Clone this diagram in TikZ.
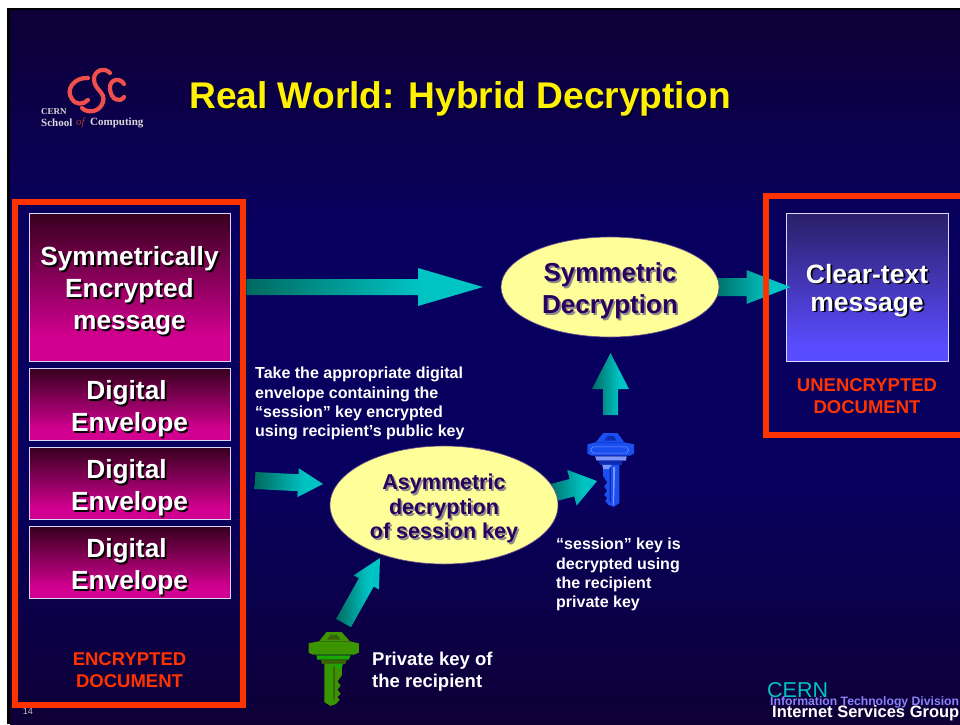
\documentclass[tikz,border=0pt]{standalone}
\usepackage{fontspec}
\setmainfont{Liberation Sans}
\newfontfamily\logofont{Liberation Serif}
\usetikzlibrary{calc,shapes.geometric}

\definecolor{slidedark}{HTML}{0E0036}
\definecolor{slidemid}{HTML}{08005E}
\definecolor{framered}{HTML}{FF3300}
\definecolor{plumlow}{HTML}{36001E}
\definecolor{plumhigh}{HTML}{D20090}
\definecolor{violetlow}{HTML}{2A1F66}
\definecolor{violethigh}{HTML}{5A4CFF}
\definecolor{teallow}{HTML}{006A60}
\definecolor{tealhigh}{HTML}{00C4C4}
\definecolor{ovalfill}{HTML}{FFFF99}
\definecolor{ovalink}{HTML}{2A0060}
\definecolor{logored}{HTML}{F0504C}
\definecolor{bluekeymain}{HTML}{1A4FF2}
\definecolor{bluekeydark}{HTML}{0C2CB4}
\definecolor{bluekeylight}{HTML}{7C96FF}
\definecolor{greenkeymain}{HTML}{3F9200}
\definecolor{greenkeydark}{HTML}{366400}
\definecolor{greenkeylight}{HTML}{18A800}

\pgfdeclareverticalshading{slidefade}{100bp}{color(0bp)=(slidedark); color(25bp)=(slidedark); color(42bp)=(slidemid); color(60bp)=(slidemid); color(75bp)=(slidedark); color(100bp)=(slidedark)}
\pgfdeclareverticalshading{plumfade}{100bp}{color(0bp)=(plumhigh); color(33bp)=(plumhigh); color(75bp)=(plumlow); color(100bp)=(plumlow)}
\pgfdeclareverticalshading{violetfade}{100bp}{color(0bp)=(violethigh); color(30bp)=(violethigh); color(75bp)=(violetlow); color(100bp)=(violetlow)}
\pgfdeclarehorizontalshading{tealfade}{100bp}{color(0bp)=(teallow); color(25bp)=(teallow); color(62bp)=(tealhigh); color(100bp)=(tealhigh)}

\tikzset{frame/.style = {draw=framered,line width=6pt}}
\tikzset{bigbox/.style = {rectangle,draw=white!85!blue,line width=1pt,inner sep=0pt,shade,text=white}}
\tikzset{plumbox/.style = {bigbox,shading=plumfade,minimum width=201pt,font=\fontsize{26.3}{32}\selectfont\bfseries}}
\tikzset{oval/.style = {ellipse,fill=ovalfill,draw=ovalink!70!white,line width=0.6pt,inner sep=0pt,text=ovalink}}
\tikzset{note/.style = {anchor=north west,inner sep=0pt,align=left,text=white,font=\fontsize{16}{19.2}\selectfont\bfseries}}
\tikzset{redlabel/.style = {align=center,inner sep=0pt,text=framered,font=\fontsize{18.5}{22}\selectfont\bfseries}}
\tikzset{fatarrow/.style = {shade,shading=tealfade}}
\tikzset{logoline/.style = {draw=logored,line width=4.2pt,line cap=round}}
\tikzset{logotext/.style = {inner sep=0pt,anchor=west,text=white!85!black,font=\logofont\fontsize{11}{11}\selectfont\bfseries}}

% lines set in a stack, with a copy behind them as the drop shadow
\newcommand{\dropstack}[2]{\leavevmode\raisebox{-4.5pt}[\height][\depth]{\rlap{\kern1.8pt\raisebox{-1.8pt}[\height][\depth]{\textcolor{#1}{\begin{tabular}{@{}c@{}}#2\end{tabular}}}}\begin{tabular}{@{}c@{}}#2\end{tabular}}}

% tail, tip, half shaft, half head, head length
\newcommand{\blockarrow}[5]{
  \coordinate (neck) at ($(#2)!#5!(#1)$);
  \path[fatarrow] ($(#1)!#3!90:(#2)$) -- ($(neck)!#3!90:(#2)$) -- ($(neck)!#4!90:(#2)$)
    -- (#2) -- ($(neck)!#4!-90:(#2)$) -- ($(neck)!#3!-90:(#2)$) -- ($(#1)!#3!-90:(#2)$) -- cycle;
}

% position, width scale, main, dark and light colour
\newcommand{\keyicon}[5]{
  \begin{scope}[shift={(#1)},xscale=#2,yscale=1.03]
    \fill[#3] (-15,9) -- (-7.3,0) -- (6.7,0) -- (13.5,9) -- cycle;
    \fill[#4] (-6.3,7.3) -- (-3,2.7) -- (2.7,2.7) -- (6,7.3) -- cycle;
    \fill[#3] (-23.3,11) -- (-15,9) -- (13.5,9) -- (23.3,11) -- (23.3,20) -- (19.3,22) -- (-19,22) -- (-23.3,20) -- cycle;
    \draw[#5,line width=0.5pt] (-18,13.5) -- (16,13.5) -- (18,16.5) -- (16,19.5) -- (-18,19.5) -- (-20,16.5) -- cycle;
    \fill[#5] (-15.7,22.7) -- (16,22.7) -- (15.3,26.7) -- (-14,26.7) -- cycle;
    \fill[#4] (-12.3,26.7) -- (12,26.7) -- (11,31) -- (-10.7,31) -- cycle;
    \fill[#3] (-7.5,31) -- (8.7,31) -- (8.7,68) -- (3,71.7) -- (-2,70) -- (-5.5,66) -- (-3.5,63) -- (-6.5,60)
      -- (-3.5,56) -- (-6.5,52) -- (-3.5,48) -- (-7.5,42) -- cycle;
    \fill[#4] (-1,33) -- (0.2,33) -- (0.2,67) -- (-1,66) -- cycle;
    \fill[#5] (2.5,33) -- (4.5,33) -- (3.2,70) -- (2.2,70) -- cycle;
    \fill[#5] (-8.5,31) -- (1,31) -- (-2,35) -- (-7.5,35) -- cycle;
  \end{scope}
}

\begin{document}
\begin{tikzpicture}[x=1pt,y=-1pt]
\useasboundingbox (0,0) rectangle (960,724);

% slide
\fill[white] (0,0) rectangle (960,724);
\fill[black] (7,8) rectangle (960,724);
\path[shade,shading=slidefade] (10,10) rectangle (960,724);

% logo
\draw[logoline] (88,78) .. controls (74,77) and (65,90) .. (72,99) .. controls (76,105) and (83,105) .. (88,100);
\draw[logoline] (110,73) .. controls (105,67) and (94,70) .. (94,79) .. controls (94,90) and (106,92) .. (103,102) .. controls (100,112) and (88,114) .. (82,108);
\draw[logoline] (124,84) .. controls (120,77) and (109,79) .. (110,89) .. controls (111,100) and (120,103) .. (124,97);
\node[logotext,font=\logofont\fontsize{9}{9}\selectfont\bfseries] (logocern) at (41,112) {CERN};
\node[logotext] (logoschool) at (41,123) {School};
\node[logotext,text=logored!70!black,font=\logofont\fontsize{11}{11}\selectfont\itshape] (logoof) at (76,123) {of};
\node[logotext] (logocomp) at (90,123) {Computing};

\node[inner sep=0pt,anchor=west,text=yellow,font=\fontsize{37.15}{37}\selectfont\bfseries] (title) at (189,96.5) {\dropstack{black!80!blue}{Real World: Hybrid Decryption}};

% left column
\node[plumbox,minimum height=148pt] (msgbox) at (129.5,287) {\dropstack{black}{Symmetrically\\Encrypted\\message}};
\node[plumbox,minimum height=72pt] (envone) at (129.5,404.5) {\dropstack{black}{Digital\hspace*{6pt}\\Envelope}};
\node[plumbox,minimum height=72pt] (envtwo) at (129.5,483.5) {\dropstack{black}{Digital\hspace*{6pt}\\Envelope}};
\node[plumbox,minimum height=72pt] (envthree) at (129.5,562.5) {\dropstack{black}{Digital\hspace*{6pt}\\Envelope}};
\node[redlabel] (enclabel) at (129.5,670) {ENCRYPTED\\DOCUMENT};
\node[inner sep=0pt,text=white!75!black,font=\fontsize{9}{9}\selectfont] (pagenum) at (28,711) {14};
\node[frame,rectangle,inner sep=0pt,minimum width=228.5pt,minimum height=503pt] (encframe) at (129.2,453.5) {};

% right column
\node[bigbox,shading=violetfade,minimum width=162pt,minimum height=148pt,font=\fontsize{26.5}{28}\selectfont\bfseries] (clearbox) at (867,287) {\dropstack{black}{Clear-text\\message}};
\node[redlabel] (clearlabel) at (867,396) {UNENCRYPTED\\DOCUMENT};

% arrows go below the ovals
\coordinate (msgtail) at (encframe.east |- msgbox);
\coordinate (symtip) at (483,287);
\blockarrow{msgtail}{symtip}{8pt}{19pt}{65pt}
\coordinate (symtail) at (712,287);
\coordinate (cleartip) at ($(clearbox.west)+(5,0)$);
\blockarrow{symtail}{cleartip}{9pt}{17pt}{44pt}
\coordinate (envtail) at (255,480.5);
\coordinate (asymtip) at (323,484);
\blockarrow{envtail}{asymtip}{8.5pt}{14.5pt}{25pt}
\coordinate (keytail) at (548,494);
\coordinate (keytip) at (597,481);
\blockarrow{keytail}{keytip}{9pt}{18.5pt}{26pt}
\coordinate (uptail) at (610.5,415);
\coordinate (uptip) at (610.5,353);
\blockarrow{uptail}{uptip}{7.5pt}{18.5pt}{36pt}
\coordinate (privtail) at (343.5,623);
\coordinate (privtip) at (380,558);
\blockarrow{privtail}{privtip}{8.5pt}{14.5pt}{28pt}

\draw[frame] (960,196) -- (766,196) -- (766,435) -- (960,435);

% ovals
\node[oval,minimum width=218pt,minimum height=100pt,font=\fontsize{26}{32}\selectfont\bfseries] (symdec) at (610,287) {\dropstack{black!45!white}{Symmetric\\Decryption}};
\node[oval,minimum width=228pt,minimum height=118pt,font=\fontsize{21.5}{24.5}\selectfont\bfseries] (asymdec) at (444,505) {\dropstack{black!45!white}{Asymmetric\\decryption\\of session key}};

% keys
\keyicon{610.7,433}{1}{bluekeymain}{bluekeydark}{bluekeylight}
\keyicon{333.7,632}{-1.08}{greenkeymain}{greenkeydark}{greenkeylight}

% notes
\node[note] (takenote) at (255,367) {Take the appropriate digital\\envelope containing the\\“session” key encrypted\\using recipient’s public key};
\node[note] (keynote) at (556,538) {“session” key is\\decrypted using\\the recipient\\private key};
\node[note,font=\fontsize{18.5}{22}\selectfont\bfseries] (privnote) at (372,652) {Private key of\\the recipient};

% footer
\node[inner sep=0pt,anchor=west,text=tealhigh,font=\fontsize{21.5}{21.5}\selectfont] (cernmark) at (767,690) {CERN};
\node[inner sep=0pt,anchor=west,text=violethigh!70!white,font=\fontsize{12.2}{12.2}\selectfont\bfseries] (itdiv) at (770,702) {Information Technology Division};
\node[inner sep=0pt,anchor=west,text=white,font=\fontsize{16.5}{16.5}\selectfont\bfseries] (isgroup) at (772,713) {Internet Services Group};
\end{tikzpicture}
\end{document}
